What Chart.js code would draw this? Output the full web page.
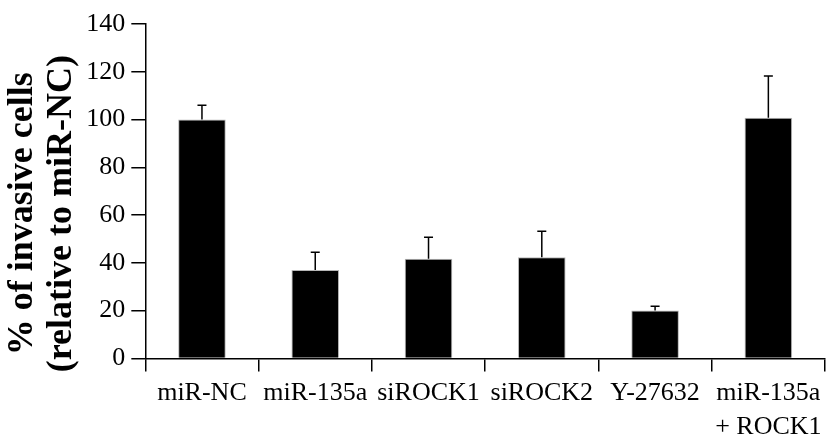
<!DOCTYPE html>
<html>
<head>
<meta charset="utf-8">
<script src="https://cdn.jsdelivr.net/npm/chart.js@4"></script>
<style>
  body { margin: 0; background: #fff; }
  #caja { width: 830px; height: 435px; }
</style>
</head>
<body>
<div id="caja"><canvas id="lienzo"></canvas></div>
<script>
const grupos = ['miR-NC', 'miR-135a', 'siROCK1', 'siROCK2', 'Y-27632', ['miR-135a', '+ ROCK1']]
const medias = [100, 37, 41.7, 42.3, 20.1, 100.8]
const errores = [6, 7.4, 9, 10.9, 1.7, 17.4]
const ticksY = [0, 20, 40, 60, 80, 100, 120, 140]

const fuente = "'Liberation Serif', 'Times New Roman', serif"

// barras de error solo hacia arriba, con tope
const barrasError = {
    id: 'barrasError',
    afterDatasetsDraw(chart) {
        const ctx = chart.ctx
        const meta = chart.getDatasetMeta(0)
        const y = chart.scales.y
        ctx.save()
        ctx.strokeStyle = '#000'
        ctx.lineWidth = 1.5
        meta.data.forEach((barra, i) => {
            const x = barra.x
            const y0 = y.getPixelForValue(medias[i])
            const y1 = y.getPixelForValue(medias[i] + errores[i])
            ctx.beginPath()
            ctx.moveTo(x, y0)
            ctx.lineTo(x, y1)
            ctx.moveTo(x - 4.5, y1)
            ctx.lineTo(x + 4.5, y1)
            ctx.stroke()
        })
        ctx.restore()
    }
}

new Chart(document.getElementById('lienzo'), {
    type: 'bar',
    data: {
        labels: grupos,
        datasets: [{
            data: medias,
            backgroundColor: '#000',
            borderColor: '#b5b5b5',
            borderWidth: {top: 1, left: 1, right: 1, bottom: 0},
            barPercentage: 0.42,
            categoryPercentage: 1
        }]
    },
    options: {
        responsive: true,
        maintainAspectRatio: false,
        animation: false,
        layout: {padding: {top: 24, right: 5, left: 4, bottom: -14}},
        plugins: {
            legend: {display: false},
            tooltip: {enabled: false}
        },
        scales: {
            x: {
                grid: {drawOnChartArea: false, color: '#000', lineWidth: 1.5, tickLength: 13, offset: true},
                border: {color: '#000', width: 1.5},
                ticks: {
                    color: '#000',
                    font: {family: fuente, size: 26, lineHeight: 1.3},
                    padding: 5,
                    maxRotation: 0,
                    autoSkip: false
                }
            },
            y: {
                min: 0,
                max: 140,
                afterBuildTicks: (eje) => { eje.ticks = ticksY.map(v => ({value: v})) },
                grid: {drawOnChartArea: false, color: '#000', lineWidth: 1.5, tickLength: 14},
                border: {color: '#000', width: 1.5},
                ticks: {
                    color: '#000',
                    font: {family: fuente, size: 26},
                    padding: 6
                },
                title: {
                    display: true,
                    // espacios al final para bajar el titulo como en el original
                    text: ['% of invasive cells     ', '(relative to miR-NC)     '],
                    color: '#000',
                    font: {family: fuente, size: 36, weight: 'bold', lineHeight: 1.06},
                    padding: {top: 0, bottom: 0}
                }
            }
        }
    },
    plugins: [barrasError]
})
</script>
</body>
</html>
